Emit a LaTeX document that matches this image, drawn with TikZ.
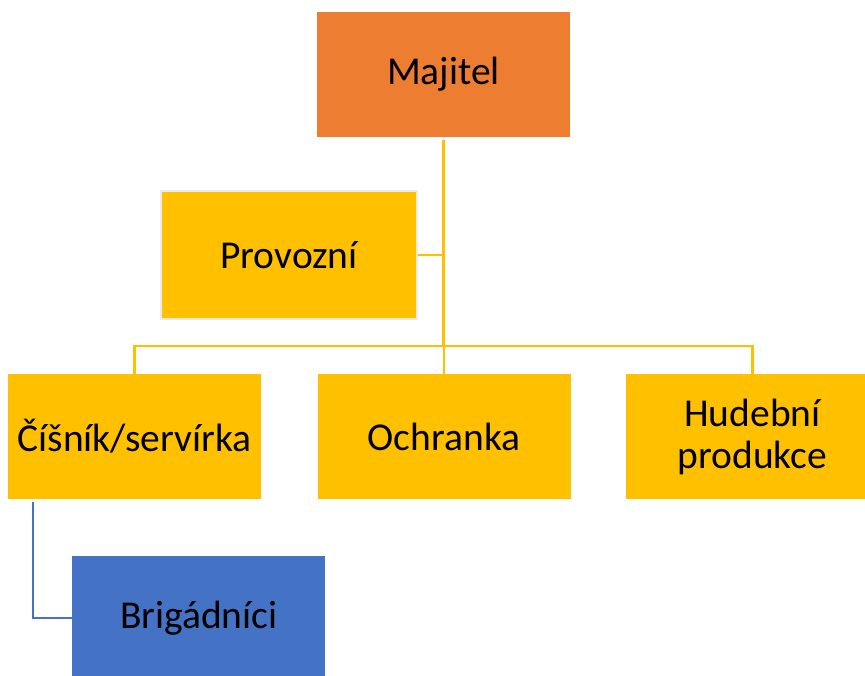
\documentclass[tikz,border=0pt]{standalone}
\usepackage{fontspec}
\setmainfont{Carlito}
\definecolor{orgOrange}{HTML}{ED7D31}
\definecolor{orgGold}{HTML}{FFC000}
\definecolor{orgBlue}{HTML}{4472C4}
\begin{document}
\begin{tikzpicture}[x=1pt,y=-1pt,
  box/.style={rectangle,minimum width=253pt,minimum height=125pt,inner sep=0pt,
    align=center,font=\fontsize{39.5}{42}\selectfont,text=black},
  gold/.style={box,fill=orgGold},
  link/.style={draw=orgGold,line width=2.5pt},
  bluelink/.style={draw=orgBlue,line width=2.5pt}]
\useasboundingbox (0,0) rectangle (865,675);
\clip (0,0) rectangle (865,675);

% boxes
\node[box,fill=orgOrange] (maj) at (443.5,74) {Majitel};
\node[gold,draw=black!8,line width=2pt,minimum width=256pt,minimum height=128pt] (prov) at (289,255) {Provozní};
\node[gold] (cis) at (134.5,436.5) {Číšník/servírka};
\node[gold] (och) at (444,436.5) {Ochranka};
\node[gold] (hud) at (752.5,436.5) {Hudební\\produkce};
\node[box,fill=orgBlue] (brig) at (198.75,618) {Brigádníci};

% connectors
\coordinate (bus) at (0,346);
\draw[link,shorten <=3pt] (maj.south) -- (maj.south |- bus);
\draw[link] (prov.east) -- (prov.east -| maj.south);
\draw[link] (cis.north) -- (cis.north |- bus) -- (hud.north |- bus) -- (hud.north);
\draw[link] (och.north) -- (och.north |- bus);
\draw[bluelink,shorten <=3pt] ([xshift=25pt]cis.south west) |- (brig.west);
\end{tikzpicture}
\end{document}
